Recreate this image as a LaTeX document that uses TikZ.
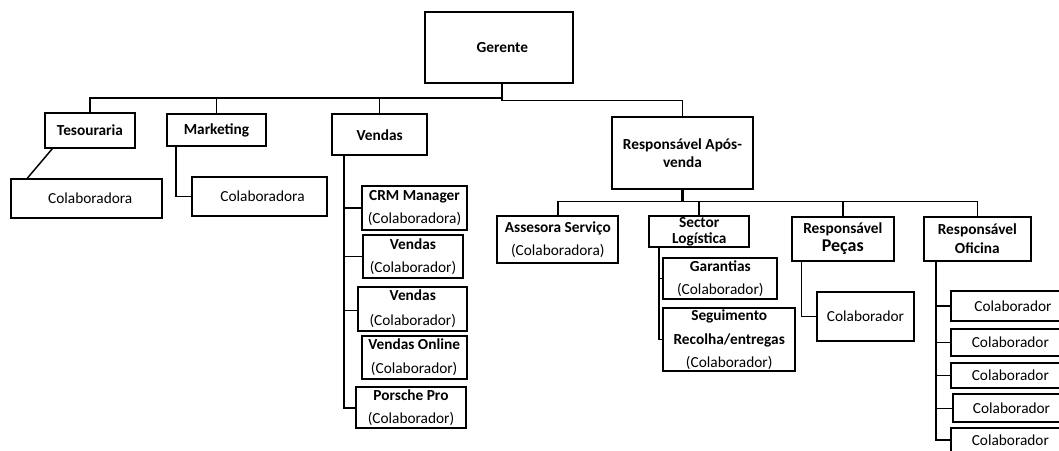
\documentclass[tikz,border=0pt]{standalone}
\usepackage{fontspec}
\setmainfont{Carlito}
\begin{document}
\begin{tikzpicture}[x=0.75pt,y=-0.75pt,
  box/.style={draw=black,line width=1.4pt,inner sep=0pt,align=center,fill=white,
    font=\fontsize{11.5}{13.8}\selectfont},
  wh/.style 2 args={minimum width=#1*0.75pt,minimum height=#2*0.75pt},
  conn/.style={draw=black,line width=1.1pt},
  heavy/.style={draw=black,line width=1.6pt}]
\useasboundingbox (0,0) rectangle (1059,450);
\fill[white] (0,0) rectangle (1059,450);
\clip (0,0) rectangle (1059,450);
% level 0 and 1
\node[box,wh={148}{71}] (ger) at (499,47.5) {\hspace*{5pt}\textbf{Gerente}};
\node[box,wh={90}{34.4}] (tes) at (90,130.5) {\textbf{Tesouraria}};
\node[box,wh={98.4}{31.7}] (mkt) at (216.5,130.2) {\textbf{Marketing}};
\node[box,wh={94.7}{41}] (ven) at (379.7,134.8) {\textbf{Vendas}};
\node[box,wh={141.6}{72.6}] (resp) at (682.5,153) {\textbf{Responsável Após-}\\\textbf{venda}};
% left branches
\node[box,wh={151.3}{39.3}] (tcol) at (86.7,198.7) {\hspace*{5.3pt}Colaboradora};
\node[box,wh={135}{39.3}] (mcol) at (259.2,196.3) {\hspace*{5pt}Colaboradora};
\node[box,wh={105.6}{44.3}] (crm) at (414.5,207.9) {\textbf{CRM Manager}\\[3pt](Colaboradora)};
\node[box,wh={99.4}{42.7}] (v1) at (413,256.3) {\textbf{Vendas}\\[3.5pt](Colaborador)};
\node[box,wh={109}{44}] (v2) at (412.8,308.7) {\textbf{Vendas}\\[4.5pt](Colaborador)};
\node[box,wh={105}{43.3}] (vo) at (414.2,357.3) {\textbf{Vendas Online}\\[4.5pt](Colaborador)};
\node[box,wh={110}{41}] (pp) at (411,407.8) {\textbf{Porsche Pro}\\[3pt](Colaborador)};
% after-sales
\node[box,wh={121}{46.7}] (ass) at (557.8,239.3) {\textbf{Assesora Serviço}\\[3.5pt](Colaboradora)};
\node[box,wh={100.3}{31.3}] (sec) at (699.2,231.7) {\textbf{Sector}\\[-2pt]\textbf{Logística}};
\node[box,wh={114}{40.4}] (gar) at (720.3,278.5) {\textbf{Garantias}\\[3.5pt](Colaborador)};
\node[box,wh={131.7}{62.7}] (seg) at (729.2,339.7) {\textbf{Seguimento}\\[3.5pt]\textbf{Recolha/entregas}\\[3.5pt](Colaborador)};
\node[box,wh={102.3}{44.3}] (pec) at (842.8,238.8) {\textbf{Responsável}\\{\fontsize{13.5}{14}\selectfont\textbf{Peças}}};
\node[box,wh={97.6}{49.3}] (pcol) at (865.5,316.3) {Colaborador};
\node[box,wh={106.7}{44.3}] (ofi) at (977.3,238.8) {\textbf{Responsável}\\\textbf{Oficina}};
\node[box,wh={124}{30}] (o1) at (1013,306) {Colaborador};
\node[box,wh={124}{26.4}] (o2) at (1013,342.5) {\hspace*{-4pt}Colaborador};
\node[box,wh={124}{25.6}] (o3) at (1013,375.5) {\hspace*{-4pt}Colaborador};
\node[box,wh={121.7}{28}] (o4) at (1014.2,408.3) {\hspace*{-4pt}Colaborador};
\node[box,wh={124}{24}] (o5) at (1013,440.3) {\hspace*{-4pt}Colaborador};
% top bus
\coordinate (gb) at (501.7,98.3);
\coordinate (gb2) at (501.7,100.7);
\draw[heavy] (ger.south -| gb) -- (gb2);
\draw[heavy] (tes.north) |- (gb);
\draw[conn] (mkt.north) -- (mkt.north |- gb);
\draw[conn] (ven.north) -- (ven.north |- gb);
\draw[conn] (gb2) -| (resp.north);
% tesouraria / marketing children
\draw[conn] ([xshift=8.3*0.75pt]tes.south west) -- ([xshift=17.3*0.75pt]tcol.north west);
\draw[conn] ([xshift=9.4*0.75pt]mkt.south west) |- (mcol.west);
% vendas spine
\coordinate (vsp) at (344,155.3);
\draw[heavy] (vsp) |- (pp.west);
\draw[conn] (crm.west) -- (crm.west -| vsp);
\draw[conn] (v1.west) -- (v1.west -| vsp);
\draw[conn] ([yshift=-2*0.75pt]v2.west) -- ([yshift=-2*0.75pt]v2.west -| vsp);
% after-sales bus
\coordinate (ab) at (682.5,201.7);
\draw[heavy] (resp.south) -- (ab);
\draw[conn] (ass.north) |- (ab) -| (ofi.north);
\draw[conn] (sec.north) -- (sec.north |- ab);
\draw[conn] (pec.north) -- (pec.north |- ab);
% sector spine
\coordinate (ssp) at (659,247.3);
\draw[conn] (ssp) |- (seg.west);
\draw[conn] (gar.west) -- (gar.west -| ssp);
% pecas
\draw[conn] ([xshift=10.6*0.75pt]pec.south west) |- (pcol.west);
% oficina spine
\coordinate (osp) at (935.7,261);
\draw[heavy] (osp) |- (o5.west);
\draw[conn] (o1.west) -- (o1.west -| osp);
\draw[conn] (o2.west) -- (o2.west -| osp);
\draw[conn] (o3.west) -- (o3.west -| osp);
\draw[conn] (o4.west) -- (o4.west -| osp);
\end{tikzpicture}
\end{document}
